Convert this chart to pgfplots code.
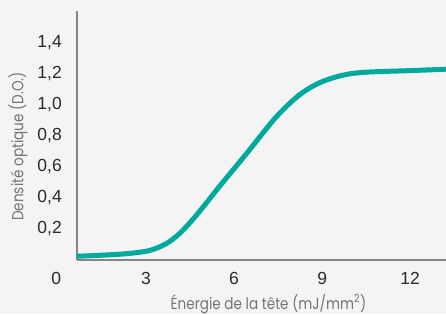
\documentclass[border=0pt]{standalone}
\usepackage{fontspec}
\setmainfont{Liberation Sans}
\newfontfamily\labfont[FakeStretch=0.85]{Poppins}
\usepackage{pgfplots}
\pgfplotsset{compat=1.18}
\definecolor{bgc}{HTML}{F4F4F4}
\definecolor{axc}{HTML}{858585}
\definecolor{tickc}{HTML}{2A2A2A}
\definecolor{labc}{HTML}{747474}
\definecolor{curvec}{HTML}{00A99D}
\begin{document}
\begin{tikzpicture}
\fill[bgc] (-77pt,-54pt) rectangle (369pt,260pt);
\begin{axis}[
  scale only axis, width=369pt, height=249pt,
  xmin=0.65, xmax=13.22, ymin=0, ymax=1.6,
  axis lines=left, axis line style={-, draw=axc, line width=2pt},
  major tick length=0pt,
  xtick={3,6,9,12}, ytick={0.2,0.4,0.6,0.8,1.0,1.2,1.4},
  /pgf/number format/assume math mode=true,
  /pgf/number format/use comma,
  tick label style={font=\fontsize{17.5}{20}\selectfont, text=tickc},
  yticklabel style={inner sep=0pt, xshift=-15pt, /pgf/number format/fixed, /pgf/number format/fixed zerofill, /pgf/number format/precision=1},
  xticklabel style={inner sep=0pt, yshift=-12pt},
  xlabel={Énergie de la tête (mJ/mm\textsuperscript{2})},
  ylabel={Densité optique (D.O.)},
  label style={font=\labfont\fontsize{16}{18}\selectfont, text=labc},
  xlabel style={at={(axis description cs:0.519,0)}, anchor=base, yshift=-49pt},
  ylabel style={at={(axis description cs:-0.16,0.456)}, anchor=center},
  clip=false,
]
\addplot[curvec, line width=5pt, smooth, tension=0.5] table {
x y
0.65 0.024
1.5 0.031
2.3 0.040
3.0 0.056
3.4 0.079
3.8 0.118
4.2 0.180
4.6 0.262
5.0 0.353
5.4 0.449
5.8 0.541
6.2 0.632
6.6 0.725
7.0 0.820
7.4 0.912
7.8 0.990
8.2 1.057
8.6 1.108
9.0 1.146
9.5 1.178
10.0 1.198
10.5 1.207
11.0 1.211
12.0 1.217
13.22 1.226
};
\node[font=\fontsize{17.5}{20}\selectfont, text=tickc, anchor=north, inner sep=0pt, yshift=-12pt] at (axis cs:-0.06,0) {0};
\end{axis}
\pgfresetboundingbox
\path (-77pt,-54pt) rectangle (369pt,260pt);
\end{tikzpicture}
\end{document}
